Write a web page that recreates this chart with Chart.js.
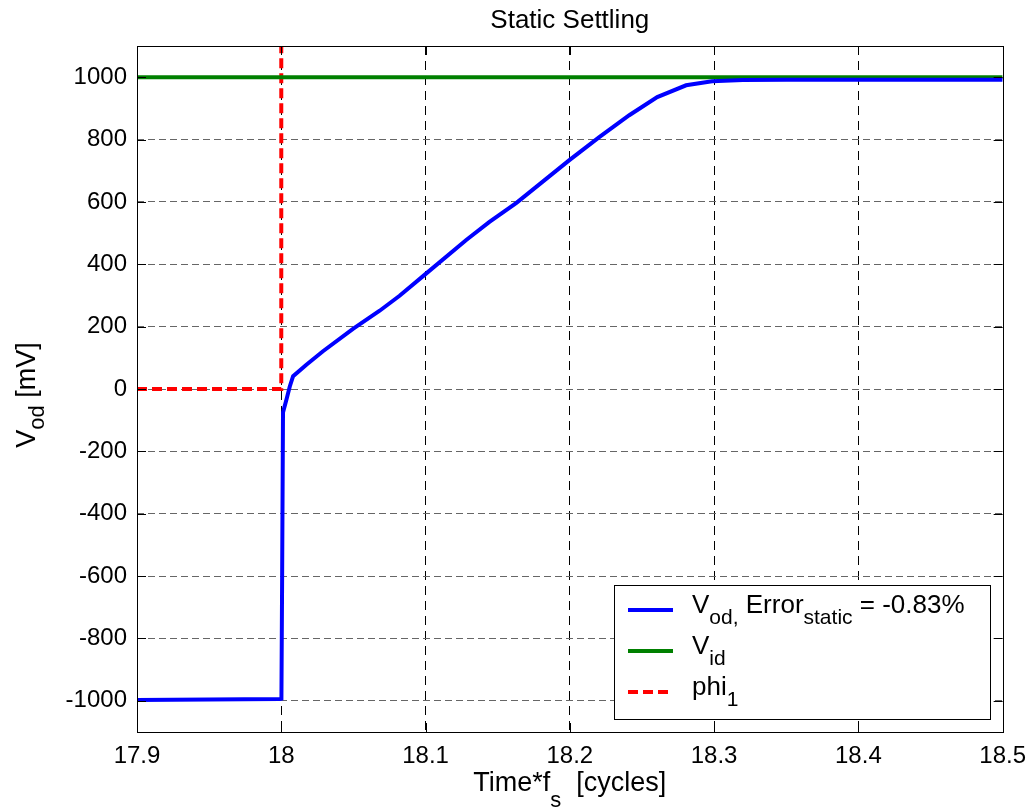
<!DOCTYPE html>
<html>
<head>
<meta charset="utf-8">
<script src="https://cdn.jsdelivr.net/npm/chart.js@4/dist/chart.umd.min.js"></script>
<style>
  html, body { margin: 0; padding: 0; background: #fff; }
  #wrap { width: 1036px; height: 811px; }
</style>
</head>
<body>
<div id="wrap"><canvas id="c" width="1036" height="811"></canvas></div>
<script>
// ---- data ----
const vodTime = [17.9, 17.95, 17.999, 18.0001, 18.0006, 18.0012, 18.0036, 18.0059, 18.0082, 18.0174, 18.0289, 18.0497, 18.0682, 18.082, 18.0993, 18.1282, 18.1443, 18.163, 18.1997, 18.2204, 18.2412, 18.2606, 18.2806, 18.2986, 18.32, 18.35, 18.5];
const vodValues = [-997, -996, -994, -993, -600, -75, -34, 8, 41, 78, 121, 193, 251, 299, 366, 478, 536, 597, 734, 808, 878, 936, 974, 987, 991, 992, 991.7];
const vidTime = [17.9, 18.5];
const vidValues = [1000, 1000];
const phiTime = [17.9, 18.0, 18.0];
const phiValues = [0, 0, 1200];
const xTickValues = [17.9, 18.0, 18.1, 18.2, 18.3, 18.4, 18.5];
const yTickValues = [-1000, -800, -600, -400, -200, 0, 200, 400, 600, 800, 1000];

const FONT = '"Liberation Sans", Arial, Helvetica, sans-serif';
const toXY = (xs, ys) => xs.map((x, i) => ({ x: x, y: ys[i] }));

function richWidth(ctx, parts, size, subSize) {
  let w = 0;
  for (const p of parts) {
    ctx.font = (p.sub ? subSize : size) + 'px ' + FONT;
    w += ctx.measureText(p.t).width;
  }
  return w;
}
function drawRich(ctx, parts, x, y, size, subSize, subShift) {
  let cx = x;
  ctx.textBaseline = 'alphabetic';
  ctx.textAlign = 'left';
  for (const p of parts) {
    ctx.font = (p.sub ? subSize : size) + 'px ' + FONT;
    ctx.fillText(p.t, cx, y + (p.sub ? subShift : 0));
    cx += ctx.measureText(p.t).width;
  }
}

const decor = {
  id: 'decor',
  afterDraw(chart) {
    const ctx = chart.ctx;
    const a = chart.chartArea;
    const xs = chart.scales.x, ys = chart.scales.y;
    ctx.save();
    // frame
    ctx.strokeStyle = '#000';
    ctx.lineWidth = 1;
    ctx.setLineDash([]);
    ctx.strokeRect(Math.round(a.left) + 0.5, Math.round(a.top) + 0.5, Math.round(a.right - a.left), Math.round(a.bottom - a.top));
    // inner ticks
    const tl = 9;
    ctx.beginPath();
    for (const v of xTickValues) {
      const px = Math.round(xs.getPixelForValue(v)) + 0.5;
      ctx.moveTo(px, a.bottom); ctx.lineTo(px, a.bottom - tl);
      ctx.moveTo(px, a.top); ctx.lineTo(px, a.top + tl);
    }
    for (const v of yTickValues) {
      const py = Math.round(ys.getPixelForValue(v)) + 0.5;
      ctx.moveTo(a.left, py); ctx.lineTo(a.left + tl, py);
      ctx.moveTo(a.right, py); ctx.lineTo(a.right - tl, py);
    }
    ctx.stroke();

    ctx.fillStyle = '#000';
    // title
    ctx.font = '26px ' + FONT;
    ctx.textAlign = 'center';
    ctx.textBaseline = 'alphabetic';
    ctx.fillText('Static Settling', (a.left + a.right) / 2, 28);

    // x axis title
    const xParts = [{ t: 'Time*f' }, { t: 's', sub: true }, { t: '  [cycles]' }];
    const xw = richWidth(ctx, xParts, 27, 22);
    drawRich(ctx, xParts, (a.left + a.right) / 2 - xw / 2, 791, 27, 22, 16);

    // y axis title (rotated)
    const yParts = [{ t: 'V' }, { t: 'od', sub: true }, { t: ' [mV]' }];
    const yw = richWidth(ctx, yParts, 27, 22);
    ctx.save();
    ctx.translate(35, (a.top + a.bottom) / 2 + 6);
    ctx.rotate(-Math.PI / 2);
    drawRich(ctx, yParts, -yw / 2, 0, 27, 22, 9);
    ctx.restore();

    // legend
    const lx = 614.5, ly = 585.5, lw = 376, lh = 134;
    ctx.fillStyle = '#fff';
    ctx.fillRect(lx, ly, lw, lh);
    ctx.strokeStyle = '#000';
    ctx.lineWidth = 1;
    ctx.strokeRect(lx, ly, lw, lh);
    const entries = [
      { color: '#0000ff', dash: [], parts: [{ t: 'V' }, { t: 'od,', sub: true }, { t: ' Error' }, { t: 'static', sub: true }, { t: ' = -0.83%' }] },
      { color: '#008000', dash: [], parts: [{ t: 'V' }, { t: 'id', sub: true }] },
      { color: '#ff0000', dash: [10, 5], parts: [{ t: 'phi' }, { t: '1', sub: true }] }
    ];
    entries.forEach((e, i) => {
      const base = 613 + i * 41;
      const lineY = base - 3;
      ctx.strokeStyle = e.color;
      ctx.lineWidth = 4;
      ctx.setLineDash(e.dash);
      ctx.beginPath();
      ctx.moveTo(628, lineY); ctx.lineTo(673, lineY);
      ctx.stroke();
      ctx.setLineDash([]);
      ctx.fillStyle = '#000';
      drawRich(ctx, e.parts, 692, base, 26, 21, 11);
    });
    ctx.restore();
  }
};

new Chart(document.getElementById('c'), {
  type: 'scatter',
  data: {
    datasets: [
      { label: 'Vod', data: toXY(vodTime, vodValues), showLine: true, borderColor: '#0000ff', borderWidth: 4, pointRadius: 0, fill: false, tension: 0 },
      { label: 'Vid', data: toXY(vidTime, vidValues), showLine: true, borderColor: '#008000', borderWidth: 4, pointRadius: 0, fill: false, tension: 0 },
      { label: 'phi1', data: toXY(phiTime, phiValues), showLine: true, borderColor: '#ff0000', borderWidth: 4, borderDash: [10, 5], pointRadius: 0, fill: false, tension: 0, clip: 0 }
    ]
  },
  options: {
    responsive: false,
    animation: false,
    devicePixelRatio: 1,
    layout: { padding: { top: 46, right: 32, left: 0, bottom: 0 } },
    plugins: { legend: { display: false }, title: { display: false }, tooltip: { enabled: false } },
    scales: {
      x: {
        type: 'linear', min: 17.9, max: 18.5,
        afterBuildTicks: s => { s.ticks = xTickValues.map(v => ({ value: v })); },
        afterFit: s => { s.height = 79; },
        border: { display: false, dash: [9, 6] },
        grid: { lineWidth: 1, drawTicks: false,
          color: c => (c.tick && (c.tick.value <= 17.9 || c.tick.value >= 18.5)) ? 'rgba(0,0,0,0)' : '#000' },
        ticks: { color: '#000', padding: 10, font: { family: FONT, size: 24 }, maxRotation: 0, autoSkip: false,
          callback: v => String(Math.round(v * 10) / 10) }
      },
      y: {
        type: 'linear', min: -1100, max: 1100,
        afterBuildTicks: s => { s.ticks = yTickValues.map(v => ({ value: v })); },
        afterFit: s => { s.width = 137; },
        border: { display: false, dash: [7, 4] },
        grid: { color: '#666', lineWidth: 1, drawTicks: false },
        ticks: { color: '#000', padding: 10, font: { family: FONT, size: 24 }, autoSkip: false,
          callback: v => String(v) }
      }
    }
  },
  plugins: [decor]
});
</script>
</body>
</html>
